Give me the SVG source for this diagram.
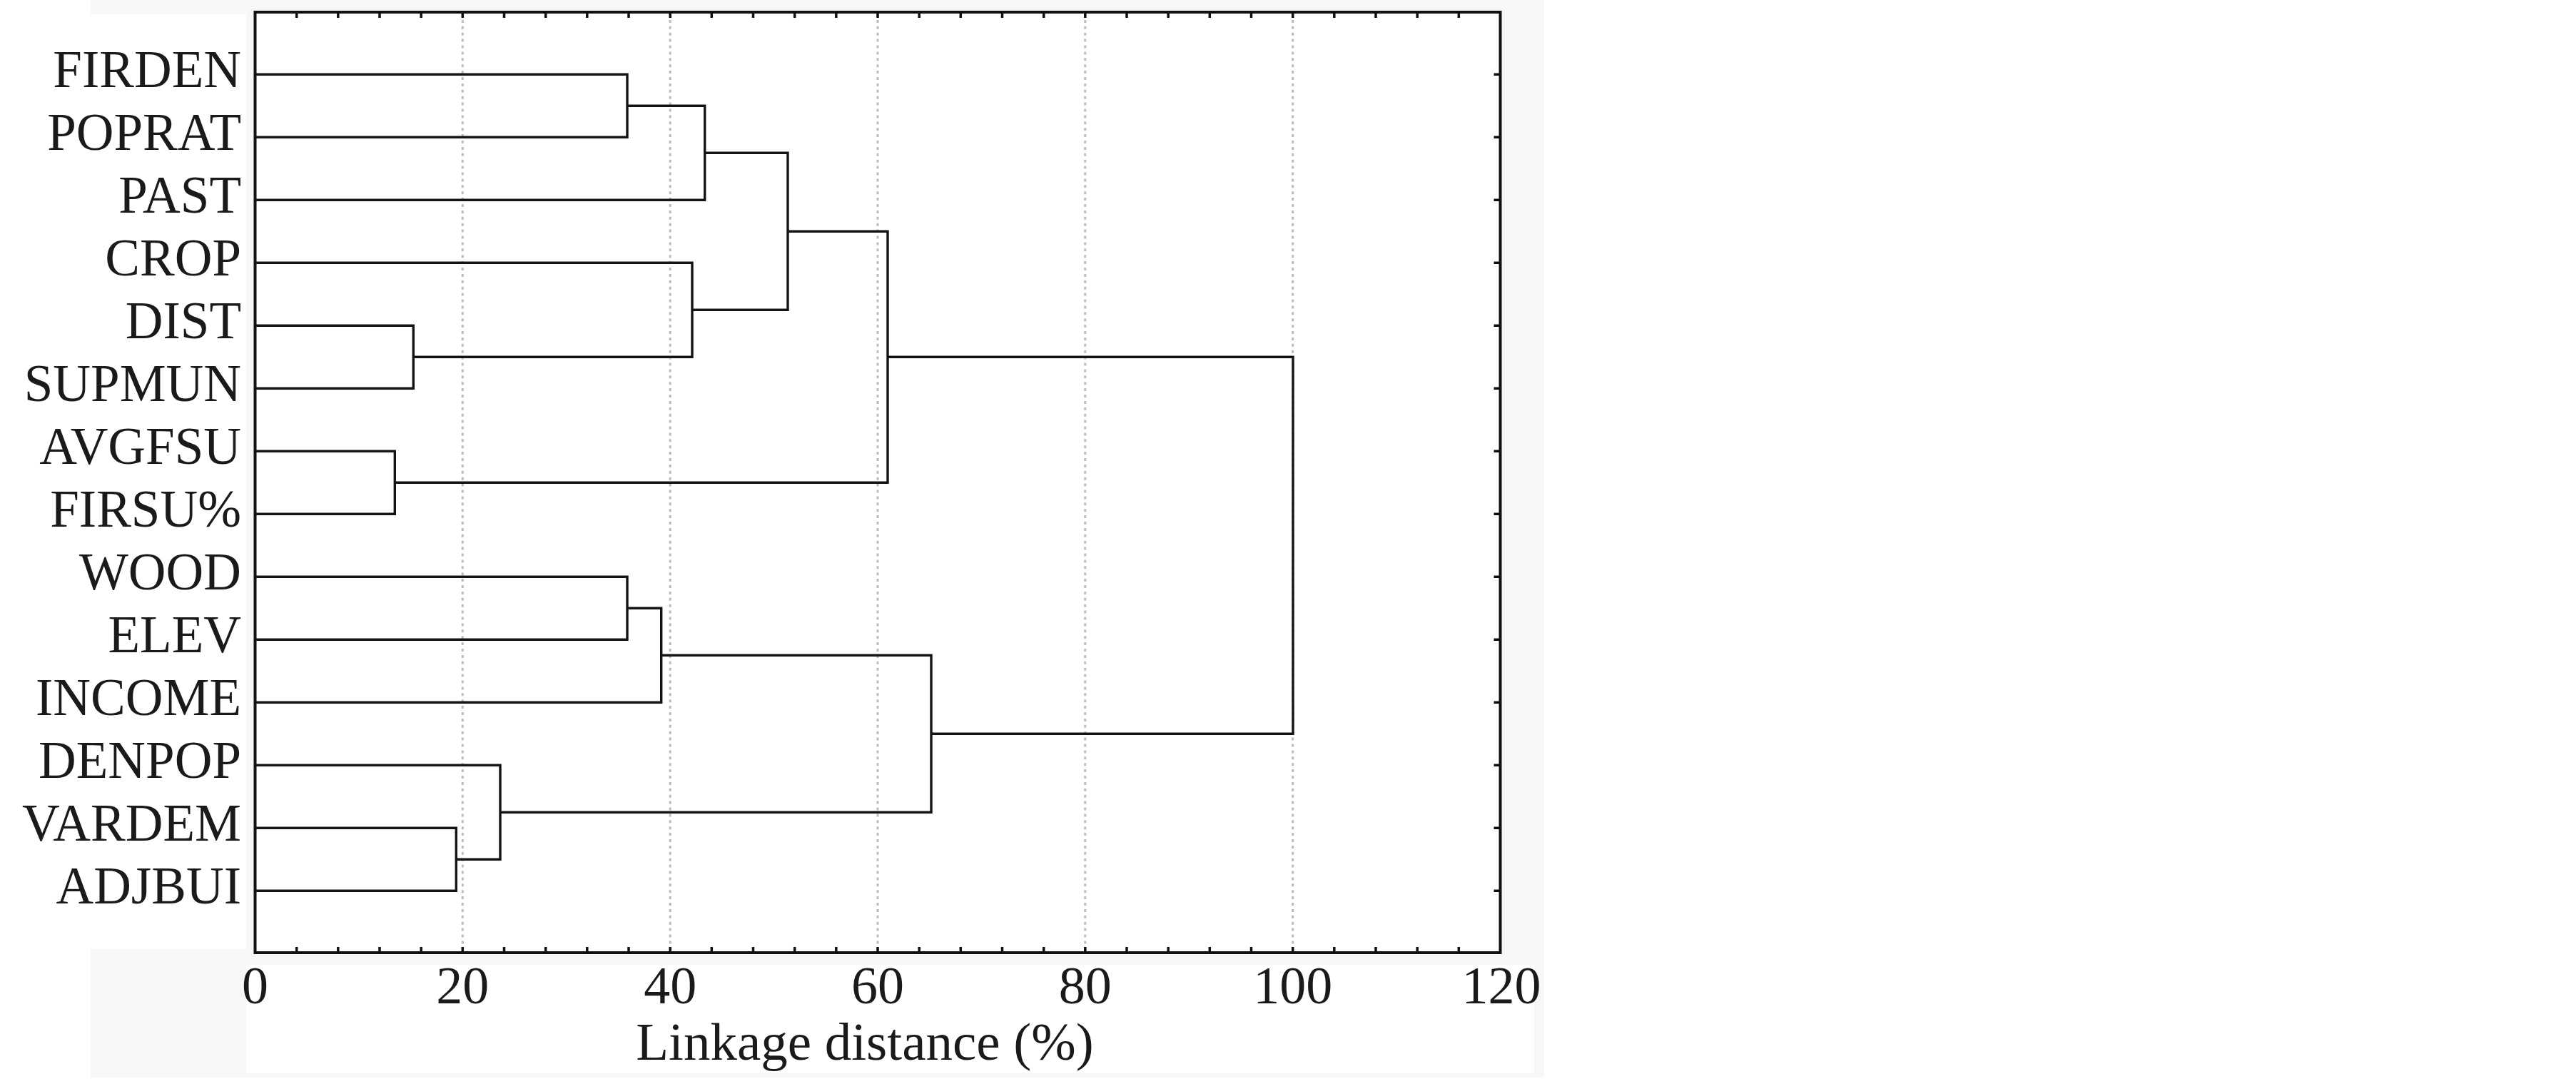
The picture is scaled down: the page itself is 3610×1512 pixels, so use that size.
<svg xmlns="http://www.w3.org/2000/svg" width="3610" height="1512" viewBox="0 0 3610 1512">
  <style>
    .lbl { font-family: "Liberation Serif", "Times New Roman", serif; font-size: 73px; fill: #1a1a1a; text-anchor: end; }
    .tick { font-family: "Liberation Serif", "Times New Roman", serif; font-size: 74px; fill: #1a1a1a; text-anchor: middle; }
    .title { font-family: "Liberation Serif", "Times New Roman", serif; font-size: 75px; fill: #1a1a1a; text-anchor: middle; }
    .grid { stroke: #bcbcbc; stroke-width: 3; stroke-dasharray: 4 4.9; fill: none; }
    .frame { stroke: #111; stroke-width: 4; fill: none; }
    .ticks { stroke: #111; stroke-width: 3.5; fill: none; }
    .link { stroke: #141414; stroke-width: 3.4; fill: none; stroke-linejoin: miter; }
  </style>
  <rect x="0" y="0" width="3610" height="1512" fill="#ffffff"/>
  <g id="background">
    <rect x="127" y="0" width="2037" height="1510" fill="#f7f7f7"/>
    <rect x="0" y="20" width="345" height="1310" fill="#ffffff"/>
    <rect x="345" y="1352" width="1805" height="152" fill="#ffffff"/>
    <rect x="357.5" y="17" width="1745" height="1318" fill="#ffffff"/>
  </g>
  <g id="gridlines">
    <path class="grid" d="M648.3 19V1333 M939.2 19V1333 M1230 19V1333 M1520.8 19V1333 M1811.7 19V1333"/>
  </g>
  <g id="axes">
    <rect class="frame" x="357.5" y="17" width="1745" height="1318"/>
    <path class="ticks" d="M415.7 17v8 M473.8 17v8 M532 17v8 M590.2 17v8 M648.3 17v8 M706.5 17v8 M764.7 17v8 M822.8 17v8 M881 17v8 M939.2 17v8 M997.3 17v8 M1055.5 17v8 M1113.7 17v8 M1171.8 17v8 M1230 17v8 M1288.2 17v8 M1346.3 17v8 M1404.5 17v8 M1462.7 17v8 M1520.8 17v8 M1579 17v8 M1637.2 17v8 M1695.3 17v8 M1753.5 17v8 M1811.7 17v8 M1869.8 17v8 M1928 17v8 M1986.2 17v8 M2044.3 17v8"/>
    <path class="ticks" d="M415.7 1335v-8 M473.8 1335v-8 M532 1335v-8 M590.2 1335v-8 M648.3 1335v-8 M706.5 1335v-8 M764.7 1335v-8 M822.8 1335v-8 M881 1335v-8 M939.2 1335v-8 M997.3 1335v-8 M1055.5 1335v-8 M1113.7 1335v-8 M1171.8 1335v-8 M1230 1335v-8 M1288.2 1335v-8 M1346.3 1335v-8 M1404.5 1335v-8 M1462.7 1335v-8 M1520.8 1335v-8 M1579 1335v-8 M1637.2 1335v-8 M1695.3 1335v-8 M1753.5 1335v-8 M1811.7 1335v-8 M1869.8 1335v-8 M1928 1335v-8 M1986.2 1335v-8 M2044.3 1335v-8"/>
    <path class="ticks" d="M2102.5 104.3h-9 M2102.5 192.3h-9 M2102.5 280.3h-9 M2102.5 368.3h-9 M2102.5 456.3h-9 M2102.5 544.3h-9 M2102.5 632.3h-9 M2102.5 720.3h-9 M2102.5 808.3h-9 M2102.5 896.3h-9 M2102.5 984.3h-9 M2102.5 1072.3h-9 M2102.5 1160.3h-9 M2102.5 1248.3h-9"/>
    <g id="x-tick-labels">
      <text class="tick" x="357.5" y="1406">0</text>
      <text class="tick" x="648.3" y="1406">20</text>
      <text class="tick" x="939.2" y="1406">40</text>
      <text class="tick" x="1230" y="1406">60</text>
      <text class="tick" x="1520.8" y="1406">80</text>
      <text class="tick" x="1811.7" y="1406">100</text>
      <text class="tick" x="2104" y="1406">120</text>
    </g>
    <text id="x-title" class="title" x="1212" y="1485">Linkage distance (%)</text>
  </g>
  <g id="nodes">
    <g id="n-FIRDEN"><text class="lbl" x="338" y="121.8">FIRDEN</text></g>
    <g id="n-POPRAT"><text class="lbl" x="338" y="209.8">POPRAT</text></g>
    <g id="n-PAST"><text class="lbl" x="338" y="297.8">PAST</text></g>
    <g id="n-CROP"><text class="lbl" x="338" y="385.8">CROP</text></g>
    <g id="n-DIST"><text class="lbl" x="338" y="473.8">DIST</text></g>
    <g id="n-SUPMUN"><text class="lbl" x="338" y="561.8">SUPMUN</text></g>
    <g id="n-AVGFSU"><text class="lbl" x="338" y="649.8">AVGFSU</text></g>
    <g id="n-FIRSU"><text class="lbl" x="338" y="737.8">FIRSU%</text></g>
    <g id="n-WOOD"><text class="lbl" x="338" y="825.8">WOOD</text></g>
    <g id="n-ELEV"><text class="lbl" x="338" y="913.8">ELEV</text></g>
    <g id="n-INCOME"><text class="lbl" x="338" y="1001.8">INCOME</text></g>
    <g id="n-DENPOP"><text class="lbl" x="338" y="1089.8">DENPOP</text></g>
    <g id="n-VARDEM"><text class="lbl" x="338" y="1177.8">VARDEM</text></g>
    <g id="n-ADJBUI"><text class="lbl" x="338" y="1265.8">ADJBUI</text></g>
  </g>
  <g id="connectors">
    <path class="link" d="M359 104.3H879V192.3H359"/>
    <path class="link" d="M879 148.3H987.7V280.3H359"/>
    <path class="link" d="M359 456.3H579.3V544.3H359"/>
    <path class="link" d="M359 368.3H970V500.3H579.3"/>
    <path class="link" d="M987.7 214.3H1104V434.3H970"/>
    <path class="link" d="M359 632.3H553.3V720.3H359"/>
    <path class="link" d="M1104 324.3H1244V676.3H553.3"/>
    <path class="link" d="M359 808.3H879V896.3H359"/>
    <path class="link" d="M879 852.3H926.7V984.3H359"/>
    <path class="link" d="M359 1160.3H639.3V1248.3H359"/>
    <path class="link" d="M359 1072.3H701V1204.3H639.3"/>
    <path class="link" d="M926.7 918.3H1305V1138.3H701"/>
    <path class="link" d="M1244 500.3H1812V1028.3H1305"/>
  </g>
</svg>
